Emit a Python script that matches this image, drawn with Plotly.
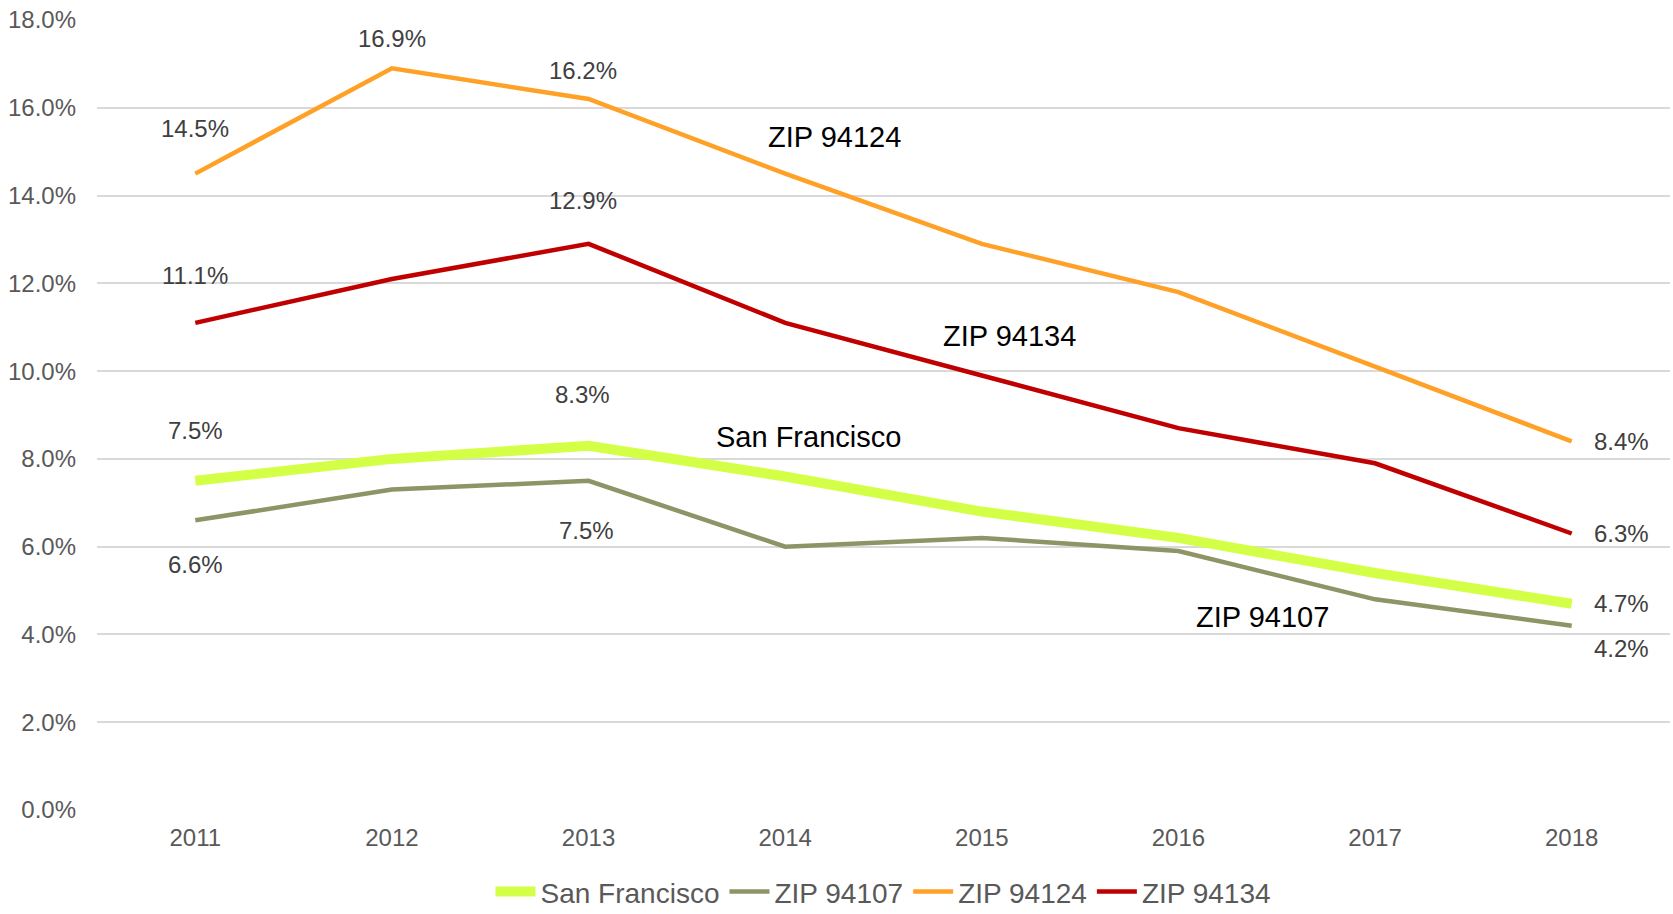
import plotly.graph_objects as go

years = ["2011", "2012", "2013", "2014", "2015", "2016", "2017", "2018"]
series_names = ["San Francisco", "ZIP 94107", "ZIP 94124", "ZIP 94134"]
sf = [7.5, 8.0, 8.3, 7.6, 6.8, 6.2, 5.4, 4.7]
zip94107 = [6.6, 7.3, 7.5, 6.0, 6.2, 5.9, 4.8, 4.2]
zip94124 = [14.5, 16.9, 16.2, 14.5, 12.9, 11.8, 10.1, 8.4]
zip94134 = [11.1, 12.1, 12.9, 11.1, 9.9, 8.7, 7.9, 6.3]
colors = ["#D4FF47", "#8E9466", "#FFA126", "#C00000"]
widths = [10, 4.5, 4.5, 4.5]
y_ticks = [0, 2, 4, 6, 8, 10, 12, 14, 16, 18]

# data labels: (series index, point index, xshift, yshift)
label_spec = [
    (0, 0, 0, 50), (0, 2, -6, 51), (0, 7, 50, 0),
    (1, 0, 0, -44), (1, 2, -2, -50), (1, 7, 50, -23),
    (2, 0, 0, 45), (2, 1, 0, 30), (2, 2, -6, 29), (2, 7, 50, 0),
    (3, 0, 0, 47), (3, 2, -6, 43), (3, 7, 50, 0),
]
# series name annotations: (text, x index, y value)
name_spec = [
    ("ZIP 94124", 3.25, 15.33),
    ("ZIP 94134", 4.14, 10.8),
    ("San Francisco", 3.12, 8.5),
    ("ZIP 94107", 5.43, 4.4),
]

data = [sf, zip94107, zip94124, zip94134]
FONT = "Liberation Sans, Arial, sans-serif"

fig = go.Figure()
for name, vals, col, w in zip(series_names, data, colors, widths):
    fig.add_trace(go.Scatter(
        x=years, y=vals, name=name, mode="lines",
        line=dict(color=col, width=w),
    ))

annotations = []
for si, pi, xs, ys in label_spec:
    annotations.append(dict(
        x=pi, y=data[si][pi], xref="x", yref="y",
        text=f"{data[si][pi]:.1f}%", showarrow=False,
        xshift=xs, yshift=ys,
        font=dict(family=FONT, size=24, color="#404040"),
    ))
for txt, xi, yv in name_spec:
    annotations.append(dict(
        x=xi, y=yv, xref="x", yref="y", text=txt, showarrow=False,
        font=dict(family=FONT, size=29, color="#000000"),
    ))

fig.update_layout(
    width=1673, height=914,
    margin=dict(l=97, r=3, t=20, b=104, autoexpand=False),
    paper_bgcolor="white", plot_bgcolor="white",
    font=dict(family=FONT, size=24, color="#595959"),
    showlegend=True,
    legend=dict(orientation="h", x=0.5, xanchor="center", y=-0.072, yanchor="top",
                font=dict(family=FONT, size=28, color="#595959"),
                itemwidth=40, tracegroupgap=0),
    annotations=annotations,
    xaxis=dict(type="category", range=[-0.5, 7.5], showgrid=False,
               showline=False, zeroline=False, ticks="",
               ticklabelstandoff=11,
               tickfont=dict(size=24, color="#595959")),
    yaxis=dict(range=[0, 18], tickvals=y_ticks,
               ticktext=[f"{v:.1f}%" for v in y_ticks],
               showgrid=True, gridcolor="#D9D9D9", gridwidth=1.5,
               zeroline=False, showline=False, ticks="",
               ticklabelstandoff=20, ticklabeloverflow="allow",
               tickfont=dict(size=24, color="#595959")),
)

fig.write_html(
    "out.html",
    config={"displayModeBar": False},
    post_script="document.body.style.margin='0';document.body.style.overflow='hidden';",
)
